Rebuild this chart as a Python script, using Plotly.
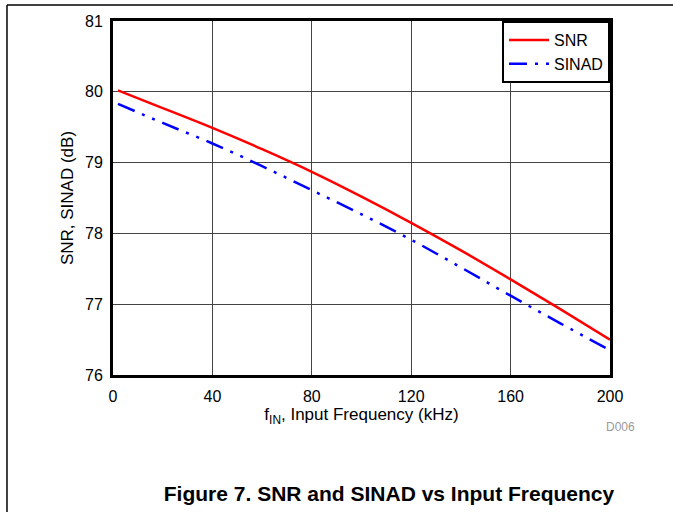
import plotly.graph_objects as go

freq_khz = [2, 20, 40, 60, 80, 100, 120, 140, 160, 180, 200]
snr_db = [80.02, 79.77, 79.49, 79.19, 78.87, 78.52, 78.15, 77.76, 77.35, 76.93, 76.50]
sinad_db = [79.83, 79.56, 79.27, 78.95, 78.61, 78.27, 77.91, 77.52, 77.12, 76.73, 76.35]

x_ticks = [0, 40, 80, 120, 160, 200]
y_ticks = [76, 77, 78, 79, 80, 81]

FONT = "Liberation Sans, Arial, sans-serif"

fig = go.Figure()
fig.add_trace(go.Scatter(x=freq_khz, y=snr_db, mode="lines", name="SNR",
                         line=dict(color="#ff0000", width=2.5, shape="spline")))
fig.add_trace(go.Scatter(x=freq_khz, y=sinad_db, mode="lines", name="SINAD",
                         line=dict(color="#0000ff", width=2.5, shape="spline",
                                   dash="18px,8px,3px,8px,3px,8px")))

W, H = 673, 512
fig.update_layout(
    width=W, height=H,
    margin=dict(l=113, r=63, t=21, b=137),
    paper_bgcolor="white", plot_bgcolor="white",
    font=dict(family=FONT, size=16, color="black"),
    showlegend=True,
    legend=dict(x=1, y=1, xanchor="right", yanchor="top",
                bgcolor="white", bordercolor="black", borderwidth=2,
                font=dict(size=16), tracegroupgap=0, itemwidth=40),
    title=dict(text="<b>Figure 7. SNR and SINAD vs Input Frequency</b>",
               x=389 / W, xanchor="center", y=1 - 494 / H, yanchor="middle",
               yref="container", font=dict(size=21, family=FONT)),
)
fig.update_xaxes(range=[0, 200], tickvals=x_ticks, showgrid=True, gridcolor="#444",
                 gridwidth=1, showline=True, linecolor="black", linewidth=3, mirror=True,
                 ticks="", zeroline=False, ticklabelstandoff=5, tickfont=dict(size=16),
                 title=dict(text="f<sub>IN</sub>, Input Frequency (kHz)", standoff=3,
                            font=dict(size=17)))
fig.update_yaxes(range=[76, 81], tickvals=y_ticks, showgrid=True, gridcolor="#444",
                 gridwidth=1, showline=True, linecolor="black", linewidth=3, mirror=True,
                 ticks="", zeroline=False, ticklabelstandoff=4, tickfont=dict(size=16),
                 title=dict(text="SNR, SINAD (dB)", standoff=8, font=dict(size=17)))

# page frame lines
fig.add_shape(type="line", xref="paper", yref="paper", x0=-0.2133, x1=1.13, y0=1.045, y1=1.045,
              line=dict(color="black", width=1.5))
fig.add_shape(type="line", xref="paper", yref="paper", x0=-0.2133, x1=-0.2133, y0=1.045, y1=-0.4,
              line=dict(color="black", width=1.5))

fig.add_annotation(text="D006", xref="paper", yref="paper", x=1.022, y=-0.147,
                   xanchor="center", yanchor="middle",
                   showarrow=False, font=dict(size=12, color="#999999"))

fig.write_html("out.html", config={"displayModeBar": False},
               post_script="document.body.style.margin='0';document.body.style.overflow='hidden';")
